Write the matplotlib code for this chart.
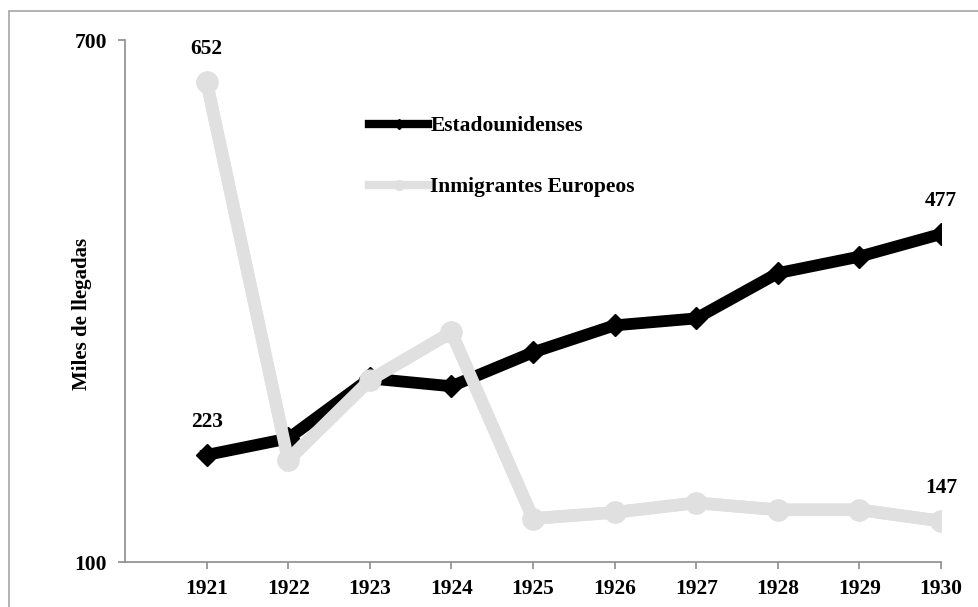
import matplotlib
matplotlib.use("Agg")
import matplotlib.pyplot as plt
from matplotlib.lines import Line2D
from matplotlib.patches import Rectangle

years = [1921, 1922, 1923, 1924, 1925, 1926, 1927, 1928, 1929, 1930]
estadounidenses = [223, 242, 311, 302, 341, 372, 380, 432, 451, 477]
europeos = [652, 217, 309, 364, 150, 157, 168, 160, 160, 147]
series_names = ["Estadounidenses", "Inmigrantes Europeos"]
y_ticks = [100, 700]
y_label = "Miles de llegadas"

plt.rcParams['font.family'] = ['Liberation Serif', 'DejaVu Serif']
plt.rcParams['font.weight'] = 'bold'

W, H = 979, 607
fig = plt.figure(figsize=(W / 100, H / 100), dpi=100)
ax = fig.add_axes([125 / W, 1 - 562 / H, (941 - 125) / W, (562 - 40) / H])

gray_line = "#E0E0E0"
axis_col = "#8C8C8C"
fs = 15.5

ax.plot(years, europeos, color=gray_line, lw=9, marker='o', markersize=15,
        solid_joinstyle='miter', zorder=2)
ax.plot(years, estadounidenses, color="black", lw=8.5, marker='D', markersize=11,
        solid_joinstyle='miter', zorder=3)
ax.plot(years, europeos, color=gray_line, lw=9, marker='o', markersize=15,
        zorder=4)

ax.set_xlim(1920, 1930)
ax.set_ylim(100, 700)
ax.set_xticks(years)
ax.set_xticklabels([str(y) for y in years])
ax.set_yticks(y_ticks)
ax.set_yticklabels([str(v) for v in y_ticks])

for s in ['top', 'right']:
    ax.spines[s].set_visible(False)
for s in ['left', 'bottom']:
    ax.spines[s].set_color(axis_col)
    ax.spines[s].set_linewidth(1.2)
ax.tick_params(axis='both', colors=axis_col, length=5, width=1.2,
               labelsize=fs, labelcolor='black')
ax.tick_params(axis='x', pad=7)
ax.tick_params(axis='y', pad=8)
for lab in ax.get_xticklabels() + ax.get_yticklabels():
    lab.set_fontweight('bold')

fig.text(82 / W, 1 - 314 / H, y_label, rotation=90, ha='center', va='center',
         fontsize=15, fontweight='bold')

label_pts = [(years[0], europeos[0]), (years[0], estadounidenses[0]),
             (years[-1], estadounidenses[-1]), (years[-1], europeos[-1])]
for x, v in label_pts:
    ax.annotate(str(v), (x, v), xytext=(0, 23.5), textcoords='offset points',
                ha='center', va='center', fontsize=fs, fontweight='bold')

handles = [Line2D([], [], color='black', lw=6, marker='D', markersize=5),
           Line2D([], [], color=gray_line, lw=6, marker='o', markersize=7)]
leg = ax.legend(handles, series_names, loc='upper left',
                bbox_to_anchor=(369 / W, 1 - 116 / H), bbox_transform=fig.transFigure,
                frameon=False, borderpad=0, borderaxespad=0, handlelength=2.75,
                handletextpad=0.1, labelspacing=1.9,
                prop={'size': 15.5, 'weight': 'bold'})

fig.patches.append(Rectangle((9 / W, -0.1), 1.2, 1 - 11 / H + 0.1,
                             transform=fig.transFigure, fill=False,
                             edgecolor="#A6A6A6", lw=1.2, zorder=0))

fig.savefig("out.png", dpi=100)
